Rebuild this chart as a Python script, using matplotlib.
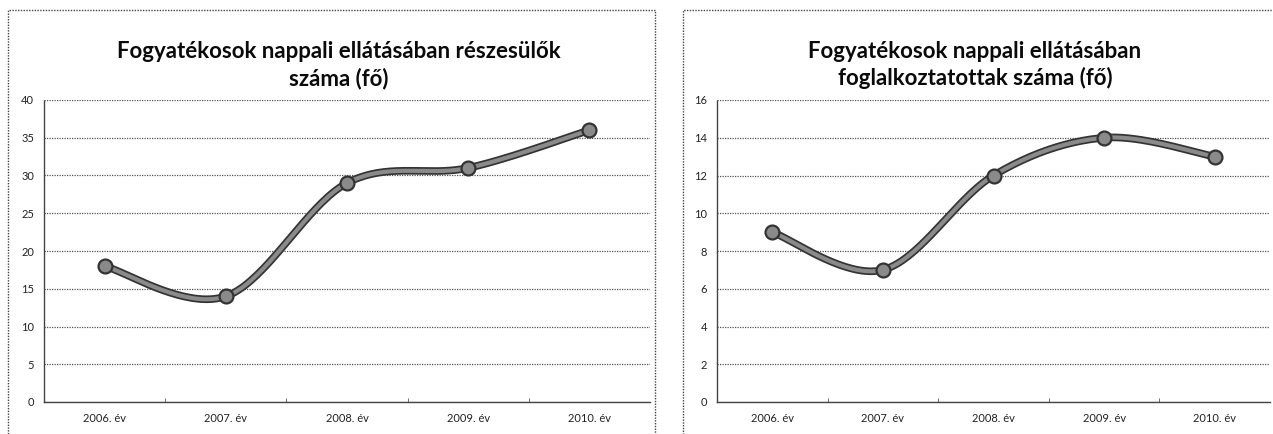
import numpy as np
import matplotlib
matplotlib.use("Agg")
import matplotlib.pyplot as plt
from matplotlib.patches import Rectangle

categories = ["2006. év", "2007. év", "2008. év", "2009. év", "2010. év"]
values_left = [18, 14, 29, 31, 36]
values_right = [9, 7, 12, 14, 13]
title_left = "Fogyatékosok nappali ellátásában részesülők\nszáma (fő)"
title_right = "Fogyatékosok nappali ellátásában\nfoglalkoztatottak száma (fő)"
yticks_left = [0, 5, 10, 15, 20, 25, 30, 35, 40]
yticks_right = [0, 2, 4, 6, 8, 10, 12, 14, 16]

plt.rcParams['font.family'] = ['Lato', 'DejaVu Sans']

W, H = 1273, 434
fig = plt.figure(figsize=(W / 100, H / 100), dpi=100)
fig.patch.set_facecolor('white')


def smooth(xs, ys, n=40, tension=1/6):
    # Catmull-Rom style Bezier smoothing (Excel-like smoothed line)
    xs = np.asarray(xs, float); ys = np.asarray(ys, float)
    px, py = [], []
    N = len(xs)
    for i in range(N - 1):
        p0 = (xs[max(i - 1, 0)], ys[max(i - 1, 0)])
        p1 = (xs[i], ys[i])
        p2 = (xs[i + 1], ys[i + 1])
        p3 = (xs[min(i + 2, N - 1)], ys[min(i + 2, N - 1)])
        c1 = (p1[0] + (p2[0] - p0[0]) * tension, p1[1] + (p2[1] - p0[1]) * tension)
        c2 = (p2[0] - (p3[0] - p1[0]) * tension, p2[1] - (p3[1] - p1[1]) * tension)
        t = np.linspace(0, 1, n)
        bx = (1-t)**3*p1[0] + 3*(1-t)**2*t*c1[0] + 3*(1-t)*t**2*c2[0] + t**3*p2[0]
        by = (1-t)**3*p1[1] + 3*(1-t)**2*t*c1[1] + 3*(1-t)*t**2*c2[1] + t**3*p2[1]
        px.extend(bx); py.extend(by)
    return np.array(px), np.array(py)


def panel(frame_px, ax_px, values, yticks, title, title_cx):
    fx0, fy0, fx1, fy1 = frame_px
    fig.patches.append(Rectangle((fx0 / W, 1 - fy1 / H), (fx1 - fx0) / W, (fy1 - fy0) / H,
                                 transform=fig.transFigure, fill=False,
                                 edgecolor='#444444', linewidth=1.0, linestyle=(0, (1, 1))))
    ax0, ay0, ax1, ay1 = ax_px
    ax = fig.add_axes([ax0 / W, 1 - ay1 / H, (ax1 - ax0) / W, (ay1 - ay0) / H])
    x = np.arange(len(values))
    ax.set_xlim(-0.5, len(values) - 0.5)
    ax.set_ylim(yticks[0], yticks[-1])
    ax.set_yticks(yticks)
    ax.set_xticks(x)
    ax.set_xticklabels(categories, fontsize=8, color='#222222')
    ax.tick_params(axis='y', labelsize=8, length=0, pad=7, colors='#222222')
    ax.tick_params(axis='x', length=0, pad=8)
    for s in ['top', 'right']:
        ax.spines[s].set_visible(False)
    for s in ['left', 'bottom']:
        ax.spines[s].set_linestyle((0, (1, 1)))
        ax.spines[s].set_color('#444444')
        ax.spines[s].set_linewidth(1.0)
    ax.grid(axis='y', color='#555555', linestyle=(0, (1, 1)), linewidth=0.9)
    ax.set_axisbelow(True)
    # minor ticks at category boundaries
    ax.set_xticks(np.arange(0.5, len(values) - 0.5, 1), minor=True)
    ax.tick_params(axis='x', which='minor', length=3, direction='in', color='#555555')
    sx, sy = smooth(x, values)
    ax.plot(sx, sy, color='#333333', linewidth=5.5, solid_capstyle='round', zorder=3, clip_on=False)
    ax.plot(sx, sy, color='#8a8a8a', linewidth=3.0, solid_capstyle='round', zorder=4, clip_on=False)
    ax.plot(x, values, linestyle='none', marker='o', markersize=10,
            markerfacecolor='#8a8a8a', markeredgecolor='#333333', markeredgewidth=1.6,
            zorder=5, clip_on=False)
    fig.text(title_cx / W, 1 - 65 / H, title, ha='center', va='center',
             fontsize=16, fontweight='bold', color='#0a0a0a', linespacing=1.3)
    return ax


panel((8, 10, 655, 436), (44, 100, 650, 402), values_left, yticks_left, title_left, 339)
panel((683, 10, 1275, 436), (717, 100, 1270, 402), values_right, yticks_right, title_right, 975)

fig.savefig('out.png', dpi=100, facecolor='white')
